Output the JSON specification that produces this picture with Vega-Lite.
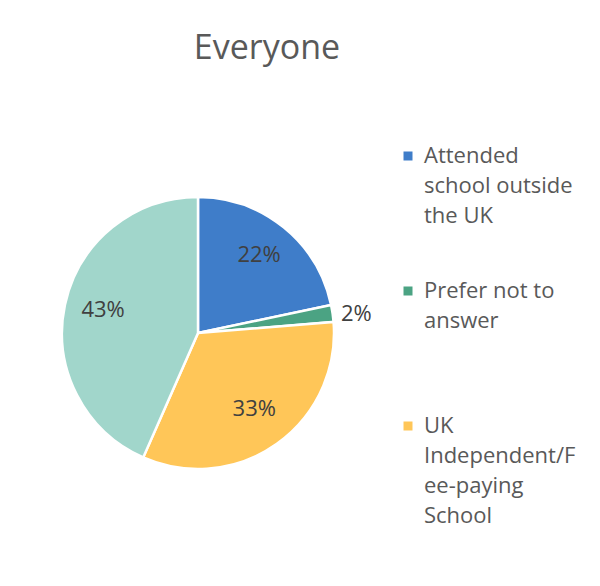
{
  "$schema": "https://vega.github.io/schema/vega-lite/v6.json",
  "autosize": "none",
  "width": 396,
  "height": 376,
  "padding": {"left": 0, "top": 145, "right": 204, "bottom": 65},
  "background": "white",
  "config": {"view": {"stroke": null}, "style": {"guide-label": {"lineHeight": 30}}},
  "title": {
    "text": "Everyone",
    "font": "Open Sans",
    "fontSize": 34,
    "fontWeight": 400,
    "color": "#595959",
    "anchor": "middle",
    "frame": "group",
    "dx": 69,
    "offset": 79
  },
  "data": {
    "values": [
      {"cat": "Attended school outside the UK", "share": 0.217},
      {"cat": "Prefer not to answer", "share": 0.020},
      {"cat": "UK Independent/Fee-paying School", "share": 0.329},
      {"cat": "UK State School", "share": 0.434}
    ]
  },
  "encoding": {
    "theta": {"field": "share", "type": "quantitative", "stack": true},
    "order": {"field": "cat", "type": "ordinal"}
  },
  "layer": [
    {
      "mark": {"type": "arc", "radius": 136, "stroke": "white", "strokeWidth": 2.5},
      "encoding": {
        "color": {
          "field": "cat",
          "type": "nominal",
          "scale": {
            "domain": ["Attended school outside the UK", "Prefer not to answer", "UK Independent/Fee-paying School", "UK State School"],
            "range": ["#3F7DC9", "#4BA383", "#FFC658", "#A1D6CB"]
          },
          "legend": {
            "title": null,
            "orient": "right",
            "offset": 1,
            "padding": 0,
            "values": ["Attended school outside the UK", "Prefer not to answer", "UK Independent/Fee-paying School"],
            "symbolType": "square",
            "symbolSize": 81,
            "symbolStrokeWidth": 0,
            "labelFont": "Open Sans",
            "labelFontSize": 22,
            "labelColor": "#595959",
            "labelLimit": 300,
            "labelOffset": 5,
            "labelBaseline": "middle",
            "rowPadding": 23,
            "labelExpr": "datum.label == 'Attended school outside the UK' ? ['Attended','school outside','the UK',''] : datum.label == 'Prefer not to answer' ? ['Prefer not to','answer','',''] : ['UK','Independent/F','ee-paying','School']",
            "encode": {"labels": {"update": {"lineHeight": {"value": 30}}}}
          }
        }
      }
    },
    {
      "mark": {"type": "text", "radius": 97, "dy": -3, "font": "Open Sans", "fontSize": 22, "color": "#404040"},
      "encoding": {
        "text": {"field": "share", "type": "quantitative", "format": ".0%", "condition": {"test": "datum.share < 0.05", "value": ""}}
      }
    },
    {
      "mark": {"type": "text", "radius": 160, "dy": 4, "font": "Open Sans", "fontSize": 22, "color": "#404040"},
      "encoding": {
        "text": {"field": "share", "type": "quantitative", "format": ".0%", "condition": {"test": "datum.share >= 0.05", "value": ""}}
      }
    }
  ]
}
